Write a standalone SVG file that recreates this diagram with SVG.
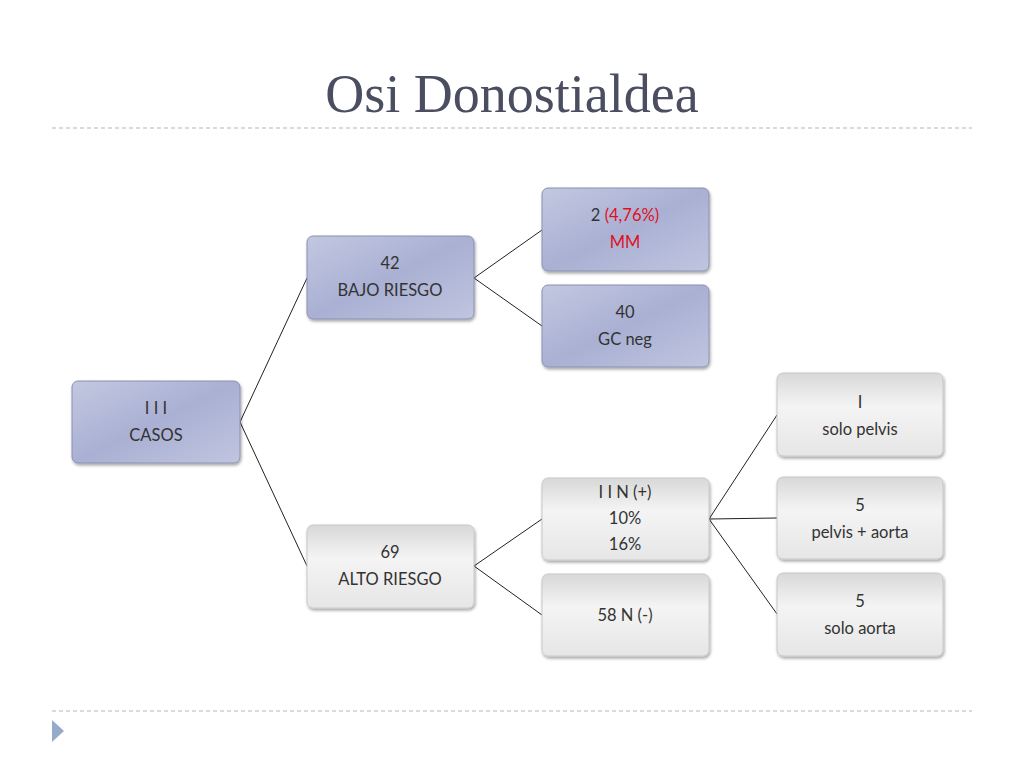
<svg xmlns="http://www.w3.org/2000/svg" width="1024" height="768" viewBox="0 0 1024 768">
<defs>
<linearGradient id="b" x1="0" y1="0" x2="1" y2="1"><stop offset="0" stop-color="#c3c8e0"/><stop offset="0.5" stop-color="#a9b0d3"/><stop offset="1" stop-color="#c0c5df"/></linearGradient>
<linearGradient id="g" x1="0" y1="0" x2="0" y2="1"><stop offset="0" stop-color="#d8d8d8"/><stop offset="0.4" stop-color="#f4f4f4"/><stop offset="1" stop-color="#e6e6e6"/></linearGradient>
<filter id="s" x="-10%" y="-10%" width="125%" height="130%"><feDropShadow dx="1" dy="2" stdDeviation="1.5" flood-color="#000" flood-opacity="0.35"/></filter>
</defs>
<style>
.bl{fill:url(#b);stroke:#8a90b0;stroke-width:1;filter:url(#s)}
.gr{fill:url(#g);stroke:#c8c8c8;stroke-width:1;filter:url(#s)}
text{font-family:"Lato","Liberation Sans",sans-serif;font-size:16.5px;fill:#333;text-anchor:middle}
.r{fill:#e0101c}
.c line{stroke:#222;stroke-width:1}
.d{stroke:#a9b7c4;stroke-width:1;stroke-dasharray:4 3}
</style>
<rect width="1024" height="768" fill="#fff"/>
<text x="512" y="112" style="font-family:'Liberation Serif',serif;font-size:54px;fill:#4a4e60">Osi Donostialdea</text>
<line class="d" x1="52" y1="128" x2="972" y2="128"/>
<line class="d" x1="52" y1="711" x2="972" y2="711"/>
<polygon points="52,720 64,731 52,742" fill="#94acc9"/>
<g class="c">
<line x1="240" y1="422" x2="307" y2="278"/><line x1="240" y1="422" x2="307" y2="566"/>
<line x1="474" y1="278" x2="542" y2="230"/><line x1="474" y1="278" x2="542" y2="326"/>
<line x1="474" y1="566" x2="542" y2="519"/><line x1="474" y1="566" x2="542" y2="615"/>
<line x1="709" y1="519" x2="777" y2="415"/><line x1="709" y1="519" x2="777" y2="518"/><line x1="709" y1="519" x2="777" y2="614"/>
</g>
<g id="n1"><rect class="bl" x="72" y="381" width="168" height="82" rx="6"/><text x="156" y="414">I I I</text><text x="156" y="441">CASOS</text></g>
<g id="n2"><rect class="bl" x="307" y="236" width="167" height="83" rx="6"/><text x="390" y="269">42</text><text x="390" y="296">BAJO RIESGO</text></g>
<g id="n3"><rect class="bl" x="542" y="188" width="167" height="83" rx="6"/><text x="625" y="221">2 <tspan class="r">(4,76%)</tspan></text><text x="625" y="248" class="r">MM</text></g>
<g id="n4"><rect class="bl" x="542" y="285" width="167" height="82" rx="6"/><text x="625" y="318">40</text><text x="625" y="345">GC neg</text></g>
<g id="n5"><rect class="gr" x="307" y="525" width="167" height="83" rx="6"/><text x="390" y="558">69</text><text x="390" y="585">ALTO RIESGO</text></g>
<g id="n6"><rect class="gr" x="542" y="478" width="167" height="82" rx="6"/><text x="625" y="498">I I N (+)</text><text x="625" y="524">10%</text><text x="625" y="550">16%</text></g>
<g id="n7"><rect class="gr" x="542" y="574" width="167" height="82" rx="6"/><text x="625" y="621">58 N (-)</text></g>
<g id="n8"><rect class="gr" x="777" y="373" width="166" height="83" rx="6"/><text x="860" y="408">I</text><text x="860" y="435">solo pelvis</text></g>
<g id="n9"><rect class="gr" x="777" y="477" width="166" height="82" rx="6"/><text x="860" y="511">5</text><text x="860" y="538">pelvis + aorta</text></g>
<g id="n10"><rect class="gr" x="777" y="573" width="166" height="83" rx="6"/><text x="860" y="607">5</text><text x="860" y="634">solo aorta</text></g>
</svg>
